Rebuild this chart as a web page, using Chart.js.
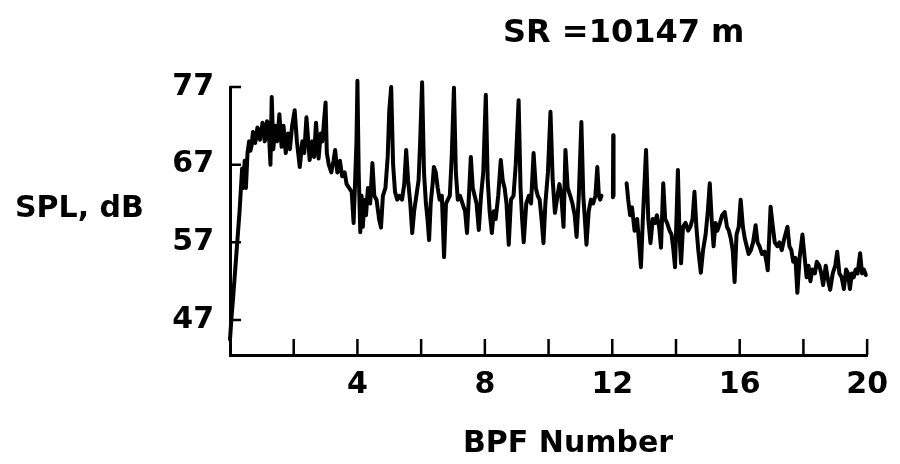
<!DOCTYPE html>
<html>
<head>
<meta charset="utf-8">
<title>SPL vs BPF Number</title>
<script src="https://cdn.jsdelivr.net/npm/chart.js@4.4.0/dist/chart.umd.min.js"></script>
<style>
    html, body { margin: 0; padding: 0; background: #fff; }
    #wrap { width: 900px; height: 464px; }
</style>
</head>
<body>
<div id="wrap"><canvas id="splChart" width="900" height="464"></canvas></div>
<script>
// 文本
const chartTitle = 'SR =10147 m';
const xAxisTitle = 'BPF Number';
const yAxisTitle = 'SPL, dB';

// 刻度
const xTickValues = [2, 4, 6, 8, 10, 12, 14, 16, 18, 20];
const xLabelValues = [4, 8, 12, 16, 20];
const yTickValues = [47, 57, 67, 77];

// 数据 (按 BPF 分段读取, null 表示原图断开处)
const bpfBand1 = [0.00, 0.05, 0.10, 0.20, 0.30, 0.38, 0.42, 0.46, 0.50, 0.55,
    0.60, 0.64, 0.68, 0.72, 0.75, 0.79, 0.82, 0.86, 0.90, 0.94,
    0.98, 1.02, 1.05, 1.09, 1.12, 1.16, 1.20, 1.24, 1.27,
    1.31, 1.36, 1.42, 1.48, 1.55, 1.62, 1.68, 1.75, 1.82, 1.88,
    1.95, 2.03, 2.10, 2.19, 2.27, 2.33, 2.40, 2.50, 2.58, 2.64,
    2.70, 2.78, 2.85, 2.90, 2.95, 3.00, 3.04, 3.10, 3.18, 3.25,
    3.30, 3.37, 3.45, 3.52, 3.60, 3.66, 3.74, 3.82, 3.88, 3.92, 3.97];
const splBand1 = [44.5, 47.5, 50.0, 55.5, 61.0, 66.5, 64.0, 67.5, 64.0, 68.5,
    70.0, 68.8, 69.5, 71.2, 71.0, 69.8, 70.5, 71.8, 71.5, 70.2,
    71.0, 72.4, 72.0, 70.0, 70.5, 72.6, 72.3, 69.5, 67.0,
    75.7, 69.0, 72.0, 70.0, 73.5, 69.3, 72.0, 68.5, 71.0, 69.0,
    72.0, 74.0, 70.0, 66.7, 70.0, 68.5, 73.1, 67.6, 70.0, 68.0,
    72.4, 67.8, 71.0, 70.0, 72.5, 75.0, 68.5, 67.0, 66.0, 67.5,
    68.9, 66.0, 67.5, 65.5, 66.0, 64.5, 64.0, 63.5, 59.5, 64.0, 70.0];

const bpfBand2 = [4.00, 4.04, 4.09, 4.13, 4.17, 4.22, 4.27, 4.33, 4.40, 4.47,
    4.53, 4.60, 4.68, 4.74, 4.80, 4.88, 4.95, 5.00, 5.06, 5.12,
    5.18, 5.25, 5.32, 5.40, 5.47, 5.53, 5.59, 5.66, 5.72, 5.78,
    5.85, 5.92, 5.97, 6.03, 6.09, 6.15, 6.20, 6.25, 6.30, 6.36,
    6.40, 6.46, 6.52, 6.58, 6.65, 6.72, 6.78, 6.84, 6.90, 6.96,
    7.03, 7.09, 7.15, 7.22, 7.30, 7.38, 7.44, 7.50, 7.56, 7.62,
    7.68, 7.74, 7.81, 7.88, 7.95];
const splBand2 = [77.8, 66.0, 58.3, 63.0, 59.0, 62.5, 60.5, 64.0, 62.0, 67.2,
    63.0, 62.5, 60.0, 58.9, 63.0, 64.0, 68.0, 74.0, 77.0, 67.0,
    63.5, 62.5, 63.0, 62.5, 64.5, 68.9, 65.0, 62.0, 58.2, 61.0,
    63.0, 65.0, 70.0, 77.6, 66.0, 62.0, 60.0, 57.3, 62.0, 64.5,
    66.7, 66.0, 64.0, 62.5, 63.0, 55.1, 62.0, 62.5, 63.0, 68.0,
    76.9, 66.0, 62.5, 63.0, 62.0, 61.0, 58.2, 63.0, 68.0, 64.0,
    63.0, 62.0, 58.6, 63.0, 66.0];

const bpfBand3 = [8.03, 8.09, 8.15, 8.22, 8.28, 8.34, 8.42, 8.50, 8.56, 8.62,
    8.68, 8.75, 8.82, 8.90, 8.97, 9.06, 9.12, 9.17, 9.22, 9.30,
    9.38, 9.45, 9.53, 9.60, 9.66, 9.72, 9.78, 9.84, 9.90, 9.98,
    10.06, 10.13, 10.20, 10.28, 10.34, 10.40, 10.47, 10.53, 10.60, 10.68,
    10.75, 10.82, 10.88, 10.95, 11.03, 11.09, 11.14, 11.19, 11.26, 11.33,
    11.40, 11.47, 11.53, 11.58, 11.62, 11.66, 11.80, 12.02, 12.03, 12.04, 12.20];
const splBand3 = [76.0, 65.0, 61.0, 58.2, 61.0, 60.0, 63.0, 67.6, 65.0, 64.0,
    62.0, 56.7, 62.5, 63.0, 67.0, 75.3, 64.0, 60.0, 57.0, 62.0,
    63.0, 62.0, 68.5, 64.0, 63.0, 62.5, 60.0, 56.9, 62.0, 66.0,
    73.8, 65.0, 60.8, 63.0, 64.5, 63.0, 59.0, 68.9, 64.0, 63.0,
    62.0, 60.5, 57.7, 63.0, 72.5, 63.0, 60.0, 56.7, 61.0, 62.5,
    62.0, 63.0, 66.7, 63.0, 62.5, 63.0, null, 62.8, 70.8, 63.0, null];

const bpfBand4 = [12.45, 12.50, 12.56, 12.62, 12.70, 12.78, 12.84, 12.90, 12.96, 13.06,
    13.13, 13.20, 13.27, 13.34, 13.40, 13.47, 13.53, 13.60, 13.66, 13.72,
    13.80, 13.86, 13.92, 13.97, 14.06, 14.11, 14.16, 14.22, 14.30, 14.38,
    14.45, 14.52, 14.58, 14.64, 14.70, 14.78, 14.85, 14.93, 15.00, 15.06,
    15.12, 15.18, 15.24, 15.30, 15.38, 15.45, 15.53, 15.60, 15.66, 15.72,
    15.78, 15.84, 15.90, 15.97];
const splBand4 = [64.6, 62.5, 60.5, 61.5, 58.5, 60.0, 57.0, 53.8, 60.0, 68.9,
    60.0, 56.9, 60.0, 59.5, 60.5, 59.0, 56.3, 64.6, 60.0, 59.5,
    58.5, 58.0, 56.0, 53.8, 66.3, 58.0, 54.3, 59.0, 59.5, 58.5,
    59.0, 60.0, 63.5, 59.0, 56.0, 53.1, 56.0, 58.0, 61.0, 64.6,
    60.0, 56.5, 59.5, 58.5, 59.5, 60.5, 60.9, 59.0, 58.5, 57.5,
    56.0, 51.9, 58.0, 59.0];

const bpfBand5 = [16.03, 16.10, 16.16, 16.22, 16.28, 16.35, 16.42, 16.50, 16.56, 16.62,
    16.70, 16.78, 16.84, 16.88, 16.97, 17.04, 17.10, 17.18, 17.25, 17.32,
    17.40, 17.50, 17.56, 17.62, 17.68, 17.75, 17.81, 17.88, 17.97, 18.04,
    18.10, 18.16, 18.22, 18.28, 18.36, 18.42, 18.50, 18.56, 18.62, 18.70,
    18.78, 18.84, 18.92, 19.00, 19.06, 19.13, 19.20, 19.27, 19.34, 19.40,
    19.46, 19.52, 19.58, 19.64, 19.70, 19.78, 19.84, 19.90, 19.96];
const splBand5 = [62.5, 59.0, 57.5, 56.5, 55.5, 56.0, 57.0, 59.2, 57.0, 56.5,
    55.5, 55.8, 54.5, 53.4, 61.6, 59.0, 57.0, 56.5, 57.0, 56.0,
    57.5, 59.0, 56.5, 56.0, 54.5, 55.0, 50.5, 55.0, 58.0, 55.0,
    52.5, 54.0, 52.0, 53.5, 53.0, 54.5, 54.0, 53.0, 51.5, 54.0,
    52.0, 50.9, 53.0, 54.0, 55.8, 53.0, 52.5, 51.0, 53.5, 53.0,
    51.0, 53.0, 52.5, 53.5, 53.0, 55.6, 53.0, 53.5, 52.8];

// 合并各段为点列
function buildPoints() {
    const xs = [...bpfBand1, ...bpfBand2, ...bpfBand3, ...bpfBand4, ...bpfBand5];
    const ys = [...splBand1, ...splBand2, ...splBand3, ...splBand4, ...splBand5];
    return xs.map((x, i) => ({ x: x, y: ys[i] }));
}

const labelFont = { family: 'DejaVu Sans', weight: 'bold', size: 30 };

// 向内的刻度线和标题文字
const axisDecor = {
    id: 'axisDecor',
    afterDraw(chart) {
        const { ctx, chartArea, scales } = chart;
        ctx.save();
        ctx.strokeStyle = '#000';
        ctx.lineWidth = 2.5;
        ctx.beginPath();
        scales.y.ticks.forEach(t => {
            const py = scales.y.getPixelForValue(t.value);
            ctx.moveTo(chartArea.left, py);
            ctx.lineTo(chartArea.left + 11, py);
        });
        scales.x.ticks.forEach(t => {
            const px = scales.x.getPixelForValue(t.value);
            ctx.moveTo(px, chartArea.bottom);
            ctx.lineTo(px, chartArea.bottom - 16);
        });
        ctx.stroke();

        ctx.fillStyle = '#000';
        ctx.textBaseline = 'alphabetic';
        ctx.textAlign = 'left';
        ctx.font = 'bold 30px "DejaVu Sans"';
        ctx.fillText(yAxisTitle, 15, 217);
        ctx.fillText(xAxisTitle, 463, 452);
        ctx.font = 'bold 32px "DejaVu Sans"';
        ctx.fillText(chartTitle, 503, 42);
        ctx.restore();
    }
};

function renderChart() {
    const canvas = document.getElementById('splChart');
    new Chart(canvas, {
        type: 'line',
        data: {
            datasets: [{
                data: buildPoints(),
                borderColor: '#000',
                borderWidth: 4,
                borderJoinStyle: 'round',
                borderCapStyle: 'round',
                pointRadius: 0,
                tension: 0,
                spanGaps: false,
                clip: false
            }]
        },
        options: {
            responsive: false,
            animation: false,
            layout: { padding: { top: 87, right: 30, bottom: 0, left: 0 } },
            plugins: {
                legend: { display: false },
                tooltip: { enabled: false }
            },
            scales: {
                x: {
                    type: 'linear',
                    min: 0,
                    max: 20,
                    afterBuildTicks: s => { s.ticks = xTickValues.map(v => ({ value: v })); },
                    afterFit: s => { s.height = 109; },
                    grid: { display: true, drawOnChartArea: false, drawTicks: false },
                    border: { display: true, color: '#000', width: 3 },
                    ticks: {
                        callback: v => xLabelValues.includes(v) ? String(v) : '',
                        font: labelFont,
                        color: '#000',
                        padding: 12,
                        maxRotation: 0,
                        autoSkip: false
                    }
                },
                y: {
                    type: 'linear',
                    min: 42.5,
                    max: 77,
                    afterBuildTicks: s => { s.ticks = yTickValues.map(v => ({ value: v })); },
                    afterFit: s => { s.width = 230; },
                    grid: { display: true, drawOnChartArea: false, drawTicks: false },
                    border: { display: true, color: '#000', width: 3 },
                    ticks: {
                        font: labelFont,
                        color: '#000',
                        padding: 16
                    }
                }
            }
        },
        plugins: [axisDecor]
    });
}

renderChart();
</script>
</body>
</html>
